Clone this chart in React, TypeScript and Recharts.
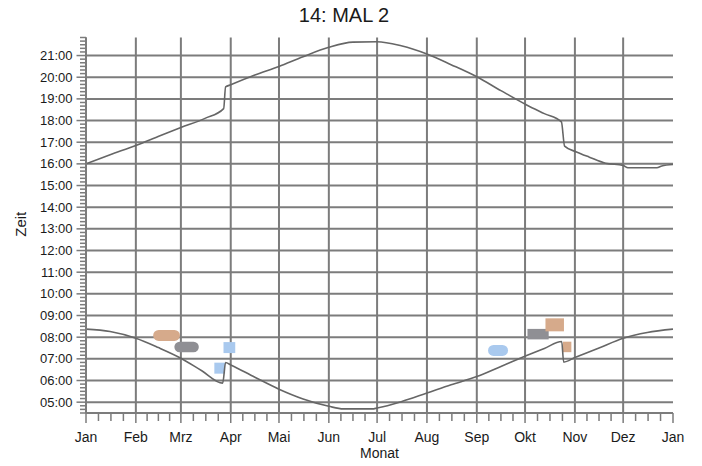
import React from 'react';
import { LineChart, Line, XAxis, YAxis, CartesianGrid, Label } from 'recharts';

// ---- tick definitions ----
const monthTicks = [0, 31, 59, 90, 120, 151, 181, 212, 243, 273, 304, 334, 365];
const monthLabels = ['Jan', 'Feb', 'Mrz', 'Apr', 'Mai', 'Jun', 'Jul', 'Aug', 'Sep', 'Okt', 'Nov', 'Dez', 'Jan'];
const hourTicks = [5, 6, 7, 8, 9, 10, 11, 12, 13, 14, 15, 16, 17, 18, 19, 20, 21];
const hourLabels = ['05:00', '06:00', '07:00', '08:00', '09:00', '10:00', '11:00', '12:00', '13:00', '14:00', '15:00', '16:00', '17:00', '18:00', '19:00', '20:00', '21:00'];

// ---- sunset (upper curve) ----
const sunsetDay = [0, 15, 31, 46, 59, 74, 85.6, 86.8, 90, 105, 120, 135, 151, 166, 181, 196, 212, 227, 243, 258, 274, 285, 295.6, 297.6, 305, 313, 323, 334, 337, 355, 358, 365];
const sunsetHour = [16.0, 16.42, 16.85, 17.3, 17.68, 18.1, 18.55, 19.55, 19.65, 20.1, 20.5, 20.95, 21.38, 21.62, 21.64, 21.45, 21.07, 20.58, 20.02, 19.38, 18.72, 18.32, 17.94, 16.82, 16.55, 16.31, 16.03, 15.93, 15.82, 15.82, 15.9, 15.97];

// ---- sunrise (lower curve) ----
const sunriseDay = [0, 15, 31, 45, 59, 72, 85, 86.8, 90, 105, 120, 135, 151, 160, 178, 181, 196, 212, 227, 243, 258, 274, 285, 295.8, 297, 304, 319, 334, 349, 365];
const sunriseHour = [8.37, 8.26, 7.95, 7.52, 7.03, 6.45, 5.88, 6.83, 6.72, 6.15, 5.6, 5.15, 4.81, 4.69, 4.69, 4.73, 5.02, 5.42, 5.8, 6.18, 6.65, 7.15, 7.48, 7.8, 6.85, 7.06, 7.5, 7.95, 8.22, 8.37];

// ---- coloured observation blobs ----
const blobStart = [45.2, 58.2, 85.5, 79.8, 253.4, 274.5, 285.7, 296.6];
const blobEnd = [55.0, 66.9, 92.8, 86.5, 259.0, 287.7, 297.2, 301.8];
const blobHour = [8.08, 7.55, 7.52, 6.57, 7.39, 8.14, 8.57, 7.55];
// styles for blobs
const TAN = '#d6aa8b';
const GREY = '#8f8f94';
const BLUE = '#a9c9ee';
const blobColor = [TAN, GREY, BLUE, BLUE, BLUE, GREY, TAN, TAN];
const blobThickness = [11, 10.5, 11, 11, 11, 10.5, 13, 10.5];
const blobCap = ['round', 'round', 'butt', 'butt', 'round', 'butt', 'butt', 'butt'];

const sunsetData = sunsetDay.map((d, i) => ({ d, h: sunsetHour[i] }));
const sunriseData = sunriseDay.map((d, i) => ({ d, h: sunriseHour[i] }));
const blobData = blobStart.map((s, i) => [
  { d: s, h: blobHour[i] },
  { d: blobEnd[i], h: blobHour[i] },
]);

// minor ticks: quarter months on x, 10 minutes on y
const xTicks: number[] = [];
for (let m = 0; m < 12; m++) {
  const a = monthTicks[m];
  const b = monthTicks[m + 1];
  xTicks.push(a);
  for (let k = 1; k < 4; k++) xTicks.push(a + ((b - a) * k) / 4);
}
xTicks.push(365);
const yTicks: number[] = [];
for (let i = 27; i <= 131; i++) yTicks.push(i / 6);

const FONT = '"Liberation Sans", Arial, sans-serif';
const GRID = '#7c7c7c';
const TEXT = '#1a1a1a';

const XTick = (props: any) => {
  const { x, y, payload } = props;
  const idx = monthTicks.indexOf(payload.value);
  if (idx >= 0) {
    return (
      <g>
        <line x1={x} x2={x} y1={y} y2={y + 10} stroke={GRID} strokeWidth={1.5} />
        <text x={x} y={y + 28.5} textAnchor="middle" fontSize={14} fill={TEXT} fontFamily={FONT}>
          {monthLabels[idx]}
        </text>
      </g>
    );
  }
  return <line x1={x} x2={x} y1={y + 1} y2={y + 8} stroke={GRID} strokeWidth={1.5} />;
};

const YTick = (props: any) => {
  const { x, y, payload } = props;
  const v = payload.value;
  const r = Math.round(v);
  if (Math.abs(v - r) < 1e-6 && hourTicks.indexOf(r) >= 0) {
    return (
      <g>
        <line x1={x - 9.5} x2={x} y1={y} y2={y} stroke={GRID} strokeWidth={1.5} />
        <text x={x - 13.5} y={y + 4.5} textAnchor="end" fontSize={13} fill={TEXT} fontFamily={FONT}>
          {hourLabels[hourTicks.indexOf(r)]}
        </text>
      </g>
    );
  }
  return <line x1={x - 6} x2={x} y1={y} y2={y} stroke={GRID} strokeWidth={1.5} />;
};

const ZeitLabel = (props: any) => {
  const vb = props.viewBox || { x: 0, y: 37.5, width: 86, height: 375.5 };
  const cx = vb.x + 20;
  const cy = vb.y + vb.height / 2 - 1;
  return (
    <text x={cx} y={cy} transform={`rotate(-90 ${cx} ${cy})`} textAnchor="middle" dominantBaseline="central" fontSize={15} fill={TEXT} fontFamily={FONT}>
      Zeit
    </text>
  );
};

const MonatLabel = (props: any) => {
  const vb = props.viewBox || { x: 86, y: 413, width: 587, height: 53 };
  return (
    <text x={vb.x + vb.width / 2} y={vb.y + 45} textAnchor="middle" fontSize={14} fill={TEXT} fontFamily={FONT}>
      Monat
    </text>
  );
};

export default function App() {
  return (
    <div style={{ position: 'absolute', left: 0, top: 0, width: 702, height: 466, background: '#fff' }}>
      <div
        style={{
          position: 'absolute',
          left: 244,
          top: 5,
          width: 200,
          textAlign: 'center',
          fontFamily: FONT,
          fontSize: 20,
          lineHeight: '20px',
          color: TEXT,
        }}
      >
        14: MAL 2
      </div>
      <LineChart width={702} height={466} margin={{ top: 37.5, right: 29, bottom: 0, left: 0 }}>
        <CartesianGrid
          stroke={GRID}
          strokeWidth={2}
          horizontalValues={hourTicks}
          verticalValues={monthTicks.slice(0, 12)}
        />
        <XAxis
          type="number"
          dataKey="d"
          domain={[0, 365]}
          ticks={xTicks}
          interval={0}
          allowDataOverflow
          height={53}
          tickLine={false}
          tickSize={0}
          tickMargin={0}
          tick={<XTick />}
          axisLine={{ stroke: GRID, strokeWidth: 2 }}
        >
          <Label content={<MonatLabel />} />
        </XAxis>
        <YAxis
          type="number"
          dataKey="h"
          domain={[4.5, 21 + 50 / 60]}
          ticks={yTicks}
          interval={0}
          allowDataOverflow
          width={86}
          tickLine={false}
          tickSize={0}
          tickMargin={0}
          tick={<YTick />}
          axisLine={{ stroke: GRID, strokeWidth: 2 }}
        >
          <Label content={<ZeitLabel />} />
        </YAxis>
        {blobData.map((data, i) => (
          <Line
            key={'blob' + i}
            data={data}
            dataKey="h"
            type="linear"
            stroke={blobColor[i]}
            strokeWidth={blobThickness[i]}
            strokeLinecap={blobCap[i] as any}
            dot={false}
            activeDot={false}
            isAnimationActive={false}
          />
        ))}
        <Line
          data={sunriseData}
          dataKey="h"
          type="monotone"
          stroke="#666666"
          strokeWidth={1.6}
          dot={false}
          activeDot={false}
          isAnimationActive={false}
        />
        <Line
          data={sunsetData}
          dataKey="h"
          type="monotone"
          stroke="#666666"
          strokeWidth={1.6}
          dot={false}
          activeDot={false}
          isAnimationActive={false}
        />
      </LineChart>
    </div>
  );
}
